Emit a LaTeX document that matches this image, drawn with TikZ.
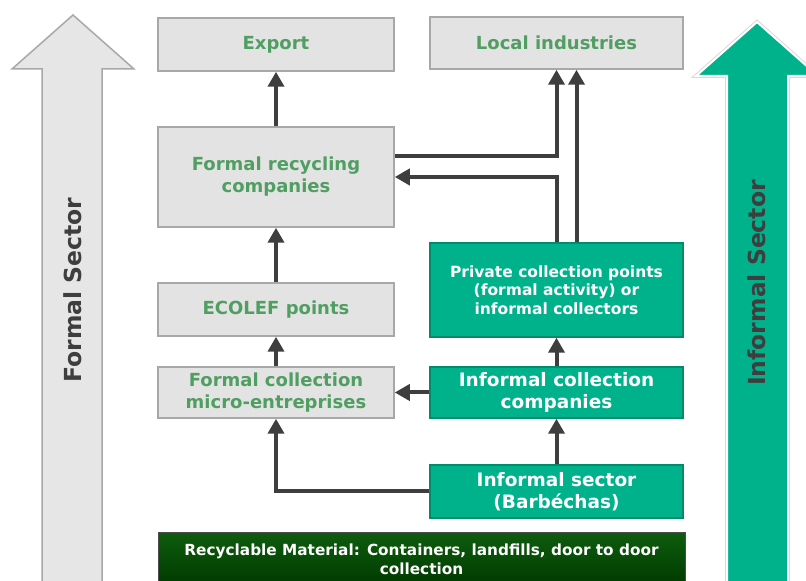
\documentclass[tikz,border=0pt]{standalone}
\usepackage{fontspec}
\setmainfont{DejaVu Sans}
\usetikzlibrary{arrows.meta}
\definecolor{boxgray}{RGB}{226,227,226}
\definecolor{edgegray}{RGB}{168,168,168}
\definecolor{txtgreen}{RGB}{80,158,98}
\definecolor{infteal}{RGB}{0,178,140}
\definecolor{tealedge}{RGB}{0,140,105}
\definecolor{grntop}{RGB}{14,92,14}
\definecolor{grnbot}{RGB}{0,58,0}
\definecolor{flowgray}{RGB}{62,62,62}
\definecolor{bigarrow}{RGB}{230,230,230}

\begin{document}
\begin{tikzpicture}[x=1pt,y=1pt,
  formal/.style={draw=edgegray,line width=1.5pt,fill=boxgray,text=txtgreen,
    font=\bfseries\fontsize{18}{22}\selectfont,align=center,inner sep=0pt,
    minimum width=236pt},
  informal/.style={draw=tealedge,line width=1.5pt,fill=infteal,text=white,
    font=\bfseries\fontsize{18.5}{22}\selectfont,align=center,inner sep=0pt,
    minimum width=253pt},
  sector/.style={rotate=90,text=flowgray,font=\bfseries\fontsize{23.5}{27}\selectfont},
  flow/.style={draw=flowgray,line width=4pt,-{Triangle[length=15pt,width=16pt]}}]
  \useasboundingbox (0,0) rectangle (806,581);
  \clip (0,0) rectangle (806,581);

  % sector arrows
  \filldraw[fill=bigarrow,draw=edgegray,line width=1.5pt]
    (42,-5)--(42,512)--(12,512)--(73,566)--(134,512)--(102,512)--(102,-5)--cycle;
  \draw[black!15,line width=4pt,line join=miter]
    (727,-5)--(727,505)--(696,505)--(757,559)--(818,505)--(788,505)--(788,-5);
  \filldraw[fill=infteal,draw=white,line width=2pt]
    (727,-5)--(727,505)--(696,505)--(757,559)--(818,505)--(788,505)--(788,-5)--cycle;
  \node[sector] (fsec) at (73,291) {Formal Sector};
  \node[sector] (isec) at (757,298) {Informal Sector};

  % formal side
  \node[formal,minimum height=53pt] (export) at (276,536.5) {Export};
  \node[formal,minimum height=100pt] (recyc) at (276,404) {Formal recycling\\companies};
  \node[formal,minimum height=53pt] (ecolef) at (276,271.5) {ECOLEF points};
  \node[formal,minimum height=51pt] (fcoll) at (276,188.5) {Formal collection\\micro-entreprises};
  \node[formal,minimum width=253pt,minimum height=52pt] (local) at (556.5,538) {Local industries};

  % informal side
  \node[informal,minimum height=94pt,font=\bfseries\fontsize{15.5}{18.5}\selectfont] (priv) at (556.5,291)
    {Private collection points\\(formal activity) or\\informal collectors};
  \node[informal,minimum height=51pt] (icoll) at (556.5,188.5) {Informal collection\\companies};
  \node[informal,minimum height=53pt] (isect) at (556.5,89.5) {Informal sector\\(Barbéchas)};

  \node[draw=black!70,line width=1pt,top color=grntop,bottom color=grnbot,text=white,
    font=\bfseries\fontsize{15.3}{19}\selectfont,align=center,inner sep=0pt,
    minimum width=527pt,minimum height=52pt] (recmat) at (421.5,22)
    {Recyclable Material: Containers, landfills, door to door\\collection};

  \draw[flow] (recyc) -- (export);
  \draw[flow] (ecolef) -- (recyc);
  \draw[flow] (fcoll) -- (ecolef);
  \draw[flow] (icoll) -- (fcoll);
  \draw[flow] (isect.west) -| (fcoll.south);
  \draw[flow] (isect) -- (icoll);
  \draw[flow] (icoll) -- (priv);
  \draw[flow] ([yshift=21pt]recyc.east) -| (local.south);
  \draw[flow] (priv.north) |- (recyc.east);
  \draw[flow] ([xshift=20pt]priv.north) -- ([xshift=20pt]local.south);
\end{tikzpicture}
\end{document}
